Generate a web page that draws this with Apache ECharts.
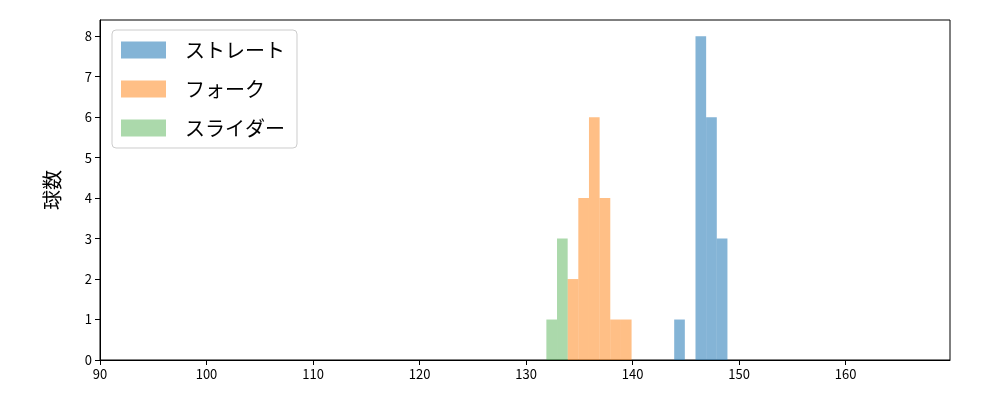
<!DOCTYPE html>
<html><head><meta charset="utf-8">
<script src="https://cdn.jsdelivr.net/npm/echarts@6/dist/echarts.min.js"></script>
<style>body{margin:0}#c{width:1000px;height:400px}</style></head>
<body><div id="c"></div>
<script>
// bins: [start, count], width 1
var straight = [[144, 1], [146, 8], [147, 6], [148, 3]];
var fork = [[134, 2], [135, 4], [136, 6], [137, 4], [138, 1], [139, 1]];
var slider = [[132, 1], [133, 3]];
var names = ['ストレート', 'フォーク', 'スライダー'];
var colors = ['rgba(31,119,180,0.55)', 'rgba(255,127,14,0.5)', 'rgba(44,160,44,0.4)'];

function renderBin(params, api) {
  var p0 = api.coord([api.value(0), api.value(1)]);
  var p1 = api.coord([api.value(0) + 1, 0]);
  return {type: 'rect', shape: {x: p0[0] - 1, y: p0[1], width: p1[0] - p0[0], height: p1[1] - p0[1]},
    style: {fill: api.visual('color')}};
}
var chart = echarts.init(document.getElementById('c'));
var font = 'Noto Sans CJK JP';
chart.setOption({
  animation: false,
  textStyle: {fontFamily: font},
  grid: {left: 100, right: 50, top: 20, bottom: 40},
  legend: {
    orient: 'vertical', left: 112, top: 30, icon: 'rect', itemWidth: 45, itemHeight: 17, itemGap: 19,
    padding: [10, 12, 10, 9], borderColor: '#ccc', borderWidth: 1, borderRadius: 4,
    textStyle: {fontSize: 20, fontFamily: font, color: '#000', padding: [0, 0, 0, 14]},
    data: names
  },
  xAxis: {type: 'value', min: 90, max: 169.8, interval: 10,
    axisLine: {lineStyle: {color: '#000'}}, axisTick: {lineStyle: {color: '#000'}},
    axisLabel: {color: '#000', fontSize: 13, showMaxLabel: false}, splitLine: {show: false}},
  yAxis: {type: 'value', min: 0, max: 8.4, interval: 1, name: '球数', nameLocation: 'middle', nameGap: 38,
    nameTextStyle: {fontSize: 20, color: '#000', fontFamily: font},
    axisLine: {show: true, lineStyle: {color: '#000'}}, axisTick: {show: true, lineStyle: {color: '#000'}},
    axisLabel: {color: '#000', fontSize: 13, showMaxLabel: false}, splitLine: {show: false}},
  series: [
    {name: names[0], type: 'custom', renderItem: renderBin, data: straight, itemStyle: {color: colors[0]}},
    {name: names[1], type: 'custom', renderItem: renderBin, data: fork, itemStyle: {color: colors[1]}},
    {name: names[2], type: 'custom', renderItem: renderBin, data: slider, itemStyle: {color: colors[2]}}
  ]
});
// frame on top/right
chart.setOption({graphic: [{type: 'rect', shape: {x: 100, y: 20, width: 850, height: 340}, silent: true,
  style: {fill: 'none', stroke: '#000', lineWidth: 1}}]});
</script></body></html>
